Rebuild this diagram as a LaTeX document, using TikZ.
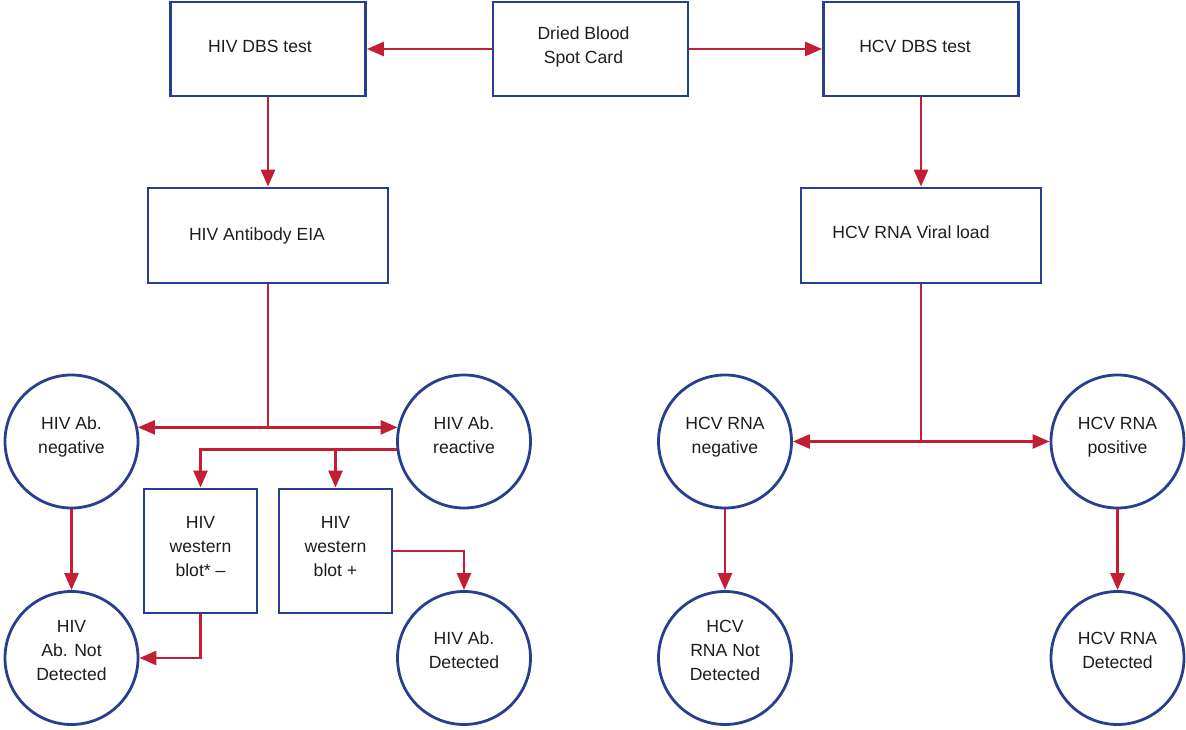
\documentclass[tikz,border=0pt]{standalone}
\usepackage{fontspec}
\setmainfont{Liberation Sans}
\usetikzlibrary{arrows.meta}
\definecolor{bblue}{RGB}{40,62,142}
\definecolor{rred}{RGB}{196,30,52}
\definecolor{txt}{RGB}{30,28,28}
\begin{document}
\begin{tikzpicture}[x=1pt,y=-1pt,
  every node/.style={font=\fontsize{17.6}{24}\selectfont, text=txt, align=center, inner sep=0pt},
  box/.style={draw=bblue, line width=2.8pt, rectangle, minimum width=#1, minimum height=94},
  circ/.style={draw=bblue, line width=2.8pt, circle, minimum size=133},
  arr/.style={draw=rred, line width=2.7pt, -{Triangle[length=17pt,width=14pt]}},
  ln/.style={draw=rred, line width=2.7pt}]
\useasboundingbox (0,0) rectangle (1186,730);
\node[box=195, text depth=7pt] (dbs) at (590.5,49) {Dried Blood\hspace*{14pt}\\Spot Card\hspace*{14pt}};
\node[box=195, text depth=6pt] (hivdbs) at (268,49) {HIV DBS test\hspace*{16pt}};
\node[box=195, text depth=6pt] (hcvdbs) at (921,49) {HCV DBS test\hspace*{12pt}};
\node[box=240, minimum height=95] (eia) at (268,235.5) {HIV Antibody EIA\hspace*{22pt}};
\node[box=240, minimum height=95, text depth=6pt] (vl) at (921,235.5) {HCV RNA Viral load\hspace*{20pt}};
\node[circ, text depth=12pt] (neg) at (71.5,441.5) {HIV Ab.\\negative};
\node[circ, text depth=12pt] (rea) at (464,441.5) {HIV Ab.\\reactive};
\node[circ, text depth=16pt] (nd) at (71.5,658) {HIV\\Ab. Not\\Detected};
\node[circ, text depth=16pt] (det) at (464,658) {HIV Ab.\\Detected};
\node[box=113, minimum height=124, text depth=10pt] (wb1) at (200.5,551) {HIV\\western\\blot* –};
\node[box=113, minimum height=124, text depth=10pt] (wb2) at (335.5,551) {HIV\\western\\blot +};
\node[circ, text depth=12pt] (hneg) at (725,441.5) {HCV RNA\\negative};
\node[circ, text depth=12pt] (hpos) at (1117.5,441.5) {HCV RNA\\positive};
\node[circ, text depth=16pt] (hnd) at (725,658) {HCV\\RNA Not\\Detected};
\node[circ, text depth=16pt] (hdet) at (1117.5,658) {HCV RNA\\Detected};
% top arrows
\draw[arr] (dbs.west) -- (hivdbs.east);
\draw[arr] (dbs.east) -- (hcvdbs.west);
\draw[arr] (hivdbs.south) -- (eia.north);
\draw[arr] (hcvdbs.south) -- (vl.north);
% HIV split
\coordinate (j1) at (eia.south |- neg.12);
\draw[ln] (eia.south) -- (j1);
\draw[arr] (j1) -- (neg.12);
\draw[arr] (j1) -- (rea.168);
% reactive to western blots
\coordinate (b2) at (wb2.north |- rea.187);
\draw[arr] (rea.187) -| (wb1.north);
\draw[arr] (b2) -- (wb2.north);
\draw[arr] (neg.south) -- (nd.north);
\draw[arr] (wb1.south) |- (nd.east);
\draw[arr] (wb2.east) -| (det.north);
% HCV split
\coordinate (j2) at (vl.south |- hneg.east);
\draw[ln] (vl.south) -- (j2);
\draw[arr] (j2) -- (hneg.east);
\draw[arr] (j2) -- (hpos.west);
\draw[arr] (hneg.south) -- (hnd.north);
\draw[arr] (hpos.south) -- (hdet.north);
\end{tikzpicture}
\end{document}
